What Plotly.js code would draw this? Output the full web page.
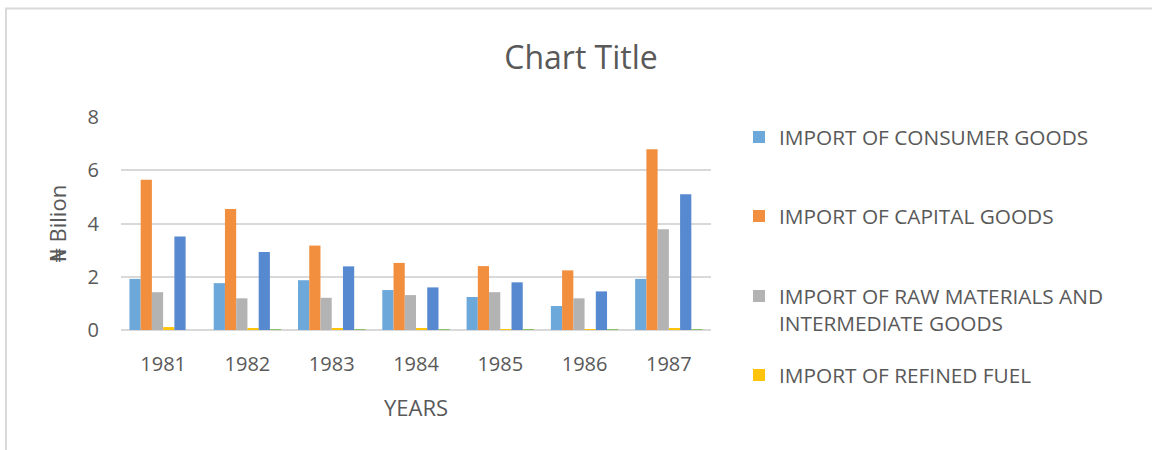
<!DOCTYPE html>
<html>
<head>
<meta charset="utf-8">
<script src="https://cdn.plot.ly/plotly-3.0.1.min.js"></script>
<style>
  html, body { margin: 0; padding: 0; background: #fff; }
  #chart { width: 1152px; height: 450px; }
</style>
</head>
<body>
<div id="chart"></div>
<script>
const years = ["1981", "1982", "1983", "1984", "1985", "1986", "1987"];
const consumerGoods = [1.92, 1.76, 1.87, 1.50, 1.24, 0.90, 1.92];
const capitalGoods = [5.64, 4.54, 3.17, 2.52, 2.40, 2.24, 6.79];
const rawMaterials = [1.42, 1.19, 1.21, 1.31, 1.42, 1.19, 3.78];
const refinedFuel = [0.11, 0.06, 0.04, 0.04, 0.02, 0.01, 0.04];
const seriesFive = [3.51, 2.93, 2.39, 1.60, 1.79, 1.45, 5.10];
const seriesSix = [0.00, 0.02, 0.02, 0.02, 0.02, 0.02, 0.02];

const names = [
  "IMPORT OF CONSUMER GOODS",
  "IMPORT OF CAPITAL GOODS",
  "IMPORT OF RAW MATERIALS AND<br>INTERMEDIATE GOODS",
  "IMPORT OF REFINED FUEL"
];

const FONT = "Open Sans, DejaVu Sans, sans-serif";
const TXT = "#595959";

function bar(y, name, color, legend, show) {
  return {
    type: "bar", x: years, y: y, name: name,
    marker: { color: color, line: { width: 0 } },
    legend: legend, showlegend: show, hoverinfo: "x+y"
  };
}

const data = [
  bar(consumerGoods, names[0], "#6CA8DA", "legend", true),
  bar(capitalGoods, names[1], "#F18F3F", "legend2", true),
  bar(rawMaterials, names[2], "#B3B3B3", "legend3", true),
  bar(refinedFuel, names[3], "#FFC40A", "legend4", true),
  bar(seriesFive, "Series 5", "#5689CF", "legend", false),
  bar(seriesSix, "Series 6", "#8CC168", "legend", false)
];

function leg(yPx) {
  return {
    x: 739 / 1152, xref: "container", xanchor: "left",
    y: 1 - yPx / 450, yref: "container", yanchor: "top",
    valign: "top",
    font: { family: FONT, size: 20.8, color: TXT },
    bgcolor: "rgba(0,0,0,0)", borderwidth: 0
  };
}

const layout = {
  width: 1152, height: 450,
  paper_bgcolor: "#ffffff", plot_bgcolor: "#ffffff",
  margin: { l: 121, r: 441, t: 117, b: 119.5 },
  font: { family: FONT, color: TXT },
  title: {
    text: "Chart Title",
    font: { family: FONT, size: 32, color: TXT },
    x: 581 / 1152, xref: "container", xanchor: "center",
    y: 1 - 58 / 450, yref: "container", yanchor: "middle"
  },
  barmode: "group",
  bargap: 0.2,
  bargroupgap: 0,
  xaxis: {
    type: "category",
    showgrid: false, zeroline: false,
    showline: false, ticks: "",
    tickfont: { family: FONT, size: 20, color: TXT },
    ticklabelstandoff: 20,
    title: { text: "YEARS", font: { family: FONT, size: 22, color: TXT }, standoff: 24 }
  },
  yaxis: {
    range: [0, 8], dtick: 2,
    showgrid: true, gridcolor: "#D9D9D9", gridwidth: 1.5,
    zeroline: true, zerolinecolor: "#D9D9D9", zerolinewidth: 1.5,
    showline: false, ticks: "",
    tickfont: { family: FONT, size: 20, color: TXT },
    ticklabelstandoff: 21,
    title: { text: "₦ Bilion", font: { family: FONT, size: 22, color: TXT }, standoff: 14 }
  },
  legend: leg(117),
  legend2: leg(196),
  legend3: leg(276),
  legend4: leg(355)
};

Plotly.newPlot("chart", data, layout, { displayModeBar: false, responsive: false }).then(function () {
  const svg = document.querySelector("#chart .main-svg");
  const ns = "http://www.w3.org/2000/svg";
  const p = document.createElementNS(ns, "path");
  p.setAttribute("d", "M6,450 L6,8.5 L1152,8.5");
  p.setAttribute("stroke", "#D9D9D9");
  p.setAttribute("stroke-width", "2");
  p.setAttribute("fill", "none");
  svg.insertBefore(p, svg.firstChild.nextSibling);
});
</script>
</body>
</html>
